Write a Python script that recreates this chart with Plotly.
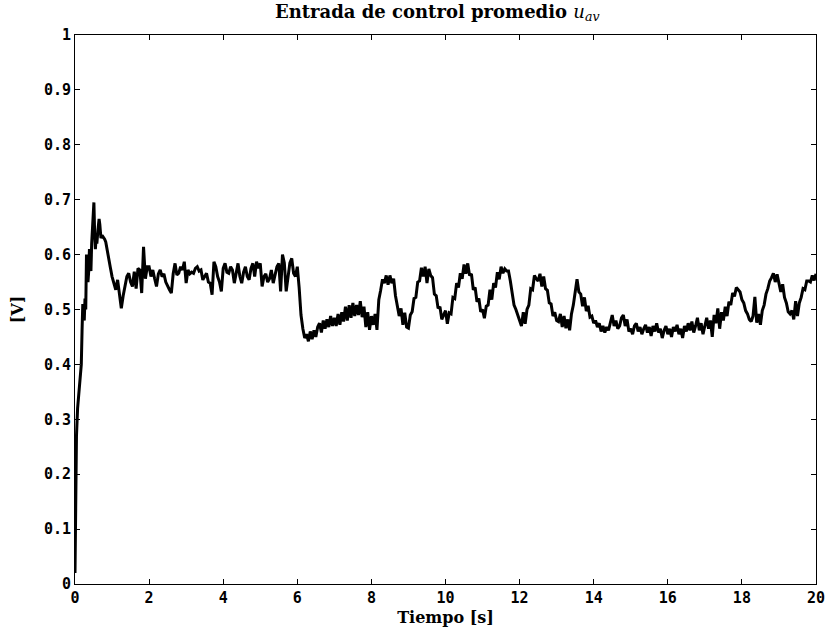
import plotly.graph_objects as go

# Start-up transient (explicit sample times, seconds)
t_start = [0.00, 0.01, 0.02, 0.04, 0.07, 0.10, 0.13, 0.15, 0.17, 0.19, 0.21, 0.23, 0.25, 0.27,
           0.29, 0.31, 0.33, 0.35, 0.37, 0.39, 0.41, 0.43, 0.45, 0.47, 0.49, 0.51, 0.53, 0.55,
           0.57, 0.59, 0.62, 0.65, 0.67, 0.70, 0.73, 0.77, 0.80, 0.83, 0.86, 0.89, 0.92, 0.95]
u_start = [0.02, 0.10, 0.19, 0.27, 0.32, 0.35, 0.37, 0.38, 0.40, 0.46, 0.51, 0.49, 0.48, 0.52,
           0.50, 0.60, 0.58, 0.55, 0.57, 0.61, 0.60, 0.57, 0.62, 0.65, 0.68, 0.695, 0.64, 0.61,
           0.63, 0.62, 0.645, 0.665, 0.655, 0.63, 0.635, 0.632, 0.628, 0.623, 0.61, 0.60, 0.59, 0.578]

# Remaining record, sampled every 0.05 s from 1.00 s to 20.00 s (one row per second)
t0_grid = 1.0
dt_grid = 0.05
u_grid = [
    0.560, 0.545, 0.536, 0.554, 0.522, 0.502, 0.525, 0.545, 0.560, 0.566, 0.550, 0.542, 0.569, 0.538, 0.575, 0.572, 0.530, 0.614, 0.556, 0.578,  # 1
    0.578, 0.560, 0.572, 0.556, 0.542, 0.565, 0.572, 0.560, 0.565, 0.550, 0.542, 0.536, 0.530, 0.565, 0.584, 0.563, 0.566, 0.578, 0.572, 0.587,  # 2
    0.548, 0.572, 0.565, 0.568, 0.566, 0.575, 0.578, 0.570, 0.572, 0.554, 0.560, 0.566, 0.550, 0.548, 0.527, 0.587, 0.578, 0.560, 0.550, 0.533,  # 3
    0.575, 0.584, 0.568, 0.566, 0.578, 0.572, 0.548, 0.570, 0.584, 0.560, 0.548, 0.568, 0.578, 0.560, 0.554, 0.575, 0.584, 0.560, 0.587, 0.575,  # 4
    0.584, 0.542, 0.560, 0.565, 0.550, 0.556, 0.572, 0.548, 0.566, 0.578, 0.584, 0.533, 0.600, 0.585, 0.533, 0.565, 0.585, 0.593, 0.566, 0.560,  # 5
    0.578, 0.540, 0.490, 0.465, 0.448, 0.455, 0.442, 0.460, 0.446, 0.462, 0.450, 0.468, 0.475, 0.458, 0.480, 0.465, 0.482, 0.468, 0.488, 0.470,  # 6
    0.485, 0.470, 0.492, 0.472, 0.495, 0.478, 0.505, 0.480, 0.508, 0.485, 0.512, 0.488, 0.508, 0.490, 0.515, 0.486, 0.505, 0.468, 0.495, 0.463,  # 7
    0.488, 0.472, 0.492, 0.463, 0.518, 0.535, 0.555, 0.548, 0.562, 0.545, 0.562, 0.548, 0.556, 0.525, 0.508, 0.488, 0.502, 0.472, 0.494, 0.468,  # 8
    0.466, 0.490, 0.496, 0.520, 0.522, 0.550, 0.552, 0.576, 0.560, 0.578, 0.548, 0.574, 0.562, 0.558, 0.528, 0.525, 0.502, 0.505, 0.482, 0.490,  # 9
    0.498, 0.474, 0.494, 0.492, 0.522, 0.520, 0.548, 0.540, 0.566, 0.556, 0.582, 0.565, 0.584, 0.562, 0.565, 0.536, 0.540, 0.514, 0.520, 0.496,  # 10
    0.500, 0.484, 0.506, 0.508, 0.536, 0.518, 0.548, 0.540, 0.568, 0.555, 0.578, 0.566, 0.574, 0.570, 0.570, 0.552, 0.530, 0.508, 0.500, 0.488,  # 11
    0.480, 0.470, 0.495, 0.474, 0.500, 0.508, 0.538, 0.536, 0.562, 0.556, 0.552, 0.565, 0.542, 0.560, 0.538, 0.535, 0.512, 0.510, 0.488, 0.495,  # 12
    0.480, 0.478, 0.492, 0.468, 0.488, 0.466, 0.482, 0.462, 0.492, 0.508, 0.535, 0.555, 0.532, 0.528, 0.506, 0.522, 0.497, 0.507, 0.486, 0.488,  # 13
    0.475, 0.480, 0.468, 0.475, 0.460, 0.470, 0.458, 0.468, 0.462, 0.475, 0.490, 0.470, 0.480, 0.465, 0.470, 0.485, 0.490, 0.470, 0.482, 0.460,  # 14
    0.465, 0.455, 0.470, 0.475, 0.460, 0.468, 0.455, 0.465, 0.472, 0.458, 0.468, 0.452, 0.470, 0.460, 0.475, 0.458, 0.465, 0.448, 0.462, 0.470,  # 15
    0.455, 0.465, 0.450, 0.468, 0.460, 0.472, 0.455, 0.465, 0.448, 0.470, 0.460, 0.475, 0.462, 0.478, 0.458, 0.470, 0.485, 0.462, 0.475, 0.455,  # 16
    0.470, 0.485, 0.465, 0.480, 0.450, 0.490, 0.475, 0.502, 0.465, 0.495, 0.480, 0.505, 0.488, 0.514, 0.508, 0.530, 0.524, 0.540, 0.536, 0.532,  # 17
    0.518, 0.512, 0.498, 0.492, 0.482, 0.478, 0.488, 0.523, 0.476, 0.492, 0.472, 0.498, 0.508, 0.528, 0.538, 0.552, 0.558, 0.566, 0.550, 0.564,  # 18
    0.548, 0.532, 0.546, 0.522, 0.512, 0.496, 0.492, 0.498, 0.482, 0.515, 0.488, 0.512, 0.522, 0.538, 0.536, 0.552, 0.552, 0.550, 0.562, 0.553,  # 19
    0.565,  # 20
]
t_grid = [round(t0_grid + dt_grid * i, 2) for i in range(len(u_grid))]

t_all = t_start + t_grid
u_all = u_start + u_grid

x_ticks = [0, 2, 4, 6, 8, 10, 12, 14, 16, 18, 20]
y_ticks = [0, 0.1, 0.2, 0.3, 0.4, 0.5, 0.6, 0.7, 0.8, 0.9, 1]
y_tick_text = ["0", "0.1", "0.2", "0.3", "0.4", "0.5", "0.6", "0.7", "0.8", "0.9", "1"]

fig = go.Figure()
fig.add_trace(go.Scatter(x=t_all, y=u_all, mode="lines",
                         line=dict(color="black", width=3), showlegend=False))

tick_font = dict(family="DejaVu Sans Mono", size=15, color="black", weight="bold")
label_font = dict(family="DejaVu Serif", size=16, color="black", weight="bold")

fig.update_layout(
    width=825, height=630,
    margin=dict(l=75, r=9, t=35, b=46),
    paper_bgcolor="white", plot_bgcolor="white",
    title=dict(text="Entrada de control promedio <i style='font-weight:normal'>u</i><sub><i style='font-weight:normal'>av</i></sub>",
               x=0.53, xanchor="center", y=0.982, yanchor="middle",
               font=dict(family="DejaVu Serif", size=18, color="black", weight="bold")),
)
fig.update_xaxes(range=[0, 20], tickvals=x_ticks, ticktext=[str(v) for v in x_ticks],
                 showline=True, mirror="ticks", linecolor="black", linewidth=1,
                 ticks="inside", ticklen=5, tickcolor="black", showgrid=False, zeroline=False,
                 tickfont=tick_font, ticklabeloverflow="allow", automargin=False,
                 title=dict(text="Tiempo [s]", font=label_font, standoff=5))
fig.update_yaxes(range=[0, 1], tickvals=y_ticks, ticktext=y_tick_text,
                 showline=True, mirror="ticks", linecolor="black", linewidth=1,
                 ticks="inside", ticklen=5, tickcolor="black", showgrid=False, zeroline=False,
                 tickfont=tick_font, ticklabeloverflow="allow", automargin=False,
                 title=dict(text="[V]", font=label_font, standoff=16))

fig.write_html("out.html")
